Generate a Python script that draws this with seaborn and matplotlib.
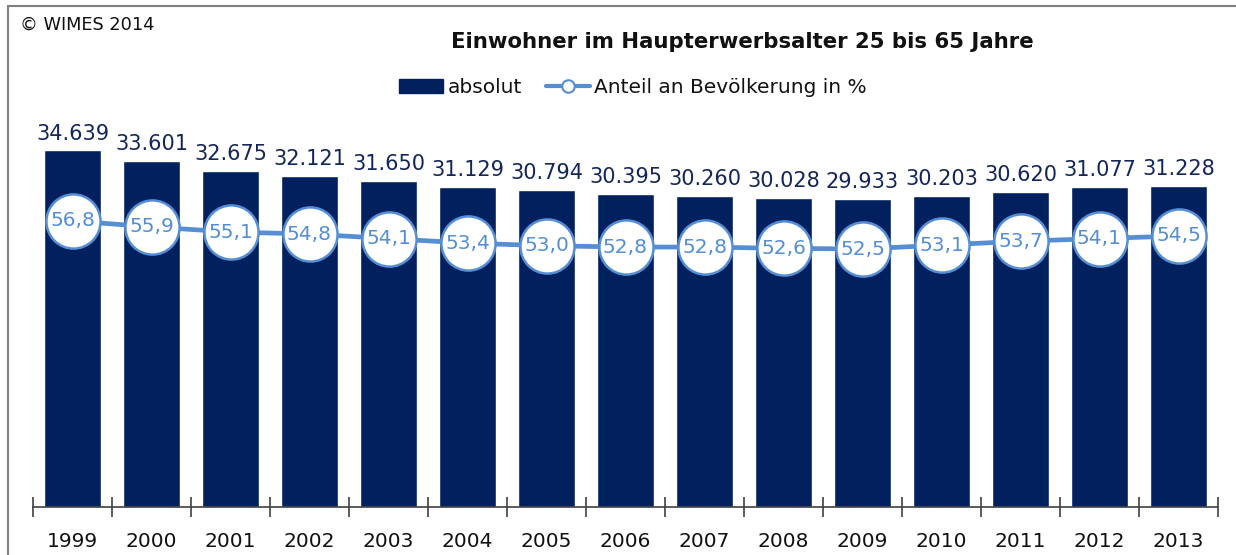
import numpy as np
import pandas as pd
import matplotlib
matplotlib.use("Agg")
import matplotlib.pyplot as plt
import seaborn as sns
from matplotlib.patches import Patch
from matplotlib.lines import Line2D
from matplotlib.ticker import FixedLocator

# data
years = ["1999", "2000", "2001", "2002", "2003", "2004", "2005", "2006",
         "2007", "2008", "2009", "2010", "2011", "2012", "2013"]
absolut = [34.639, 33.601, 32.675, 32.121, 31.650, 31.129, 30.794, 30.395,
           30.260, 30.028, 29.933, 30.203, 30.620, 31.077, 31.228]
anteil = [56.8, 55.9, 55.1, 54.8, 54.1, 53.4, 53.0, 52.8,
          52.8, 52.6, 52.5, 53.1, 53.7, 54.1, 54.5]

navy = "#03205E"
light = "#558ED5"
label_navy = "#13255A"

sns.set_style("white")
plt.rcParams["font.family"] = ["DejaVu Sans"]

df = pd.DataFrame({"Jahr": years, "absolut": absolut, "anteil": anteil})

fig = plt.figure(figsize=(12.36, 5.55), dpi=100)
ax = fig.add_axes([33 / 1236, 1 - 507 / 555, (1218 - 33) / 1236, (507 - 120) / 555])

sns.barplot(data=df, x="Jahr", y="absolut", color=navy, saturation=1,
            width=0.72, ax=ax)
ax.set_ylim(0, 37.6)
ax.set_xlim(-0.5, len(years) - 0.5)
for c in ax.containers:
    ax.bar_label(c, labels=[f"{v:.3f}" for v in absolut], padding=5,
                 fontsize=15, color=label_navy)

# secondary axis for the share line
ax2 = ax.twinx()
xpos = np.arange(len(years))
sns.lineplot(x=xpos, y=anteil, ax=ax2, color=light, linewidth=3.4,
             marker="o", markersize=39, markerfacecolor="white",
             markeredgecolor=light, markeredgewidth=1.8)
ax2.set_ylim(12.9, 72.3)
for i, v in enumerate(anteil):
    ax2.text(i, v, f"{v:.1f}".replace(".", ","), ha="center", va="center",
             fontsize=14.5, color=light, zorder=5)

for a in (ax, ax2):
    a.set_xlabel("")
    a.set_ylabel("")
    a.set_yticks([])
    for s in ["top", "right", "left"]:
        a.spines[s].set_visible(False)
ax2.spines["bottom"].set_visible(False)
ax.spines["bottom"].set_color("#404040")
ax.spines["bottom"].set_linewidth(1.2)

ax.tick_params(axis="x", which="major", length=0, labelsize=14.5, pad=18,
               labelcolor="#111111")
ax.xaxis.set_minor_locator(FixedLocator(np.arange(-0.5, len(years), 1.0)))
ax.tick_params(axis="x", which="minor", bottom=True, direction="inout",
               length=14, width=1.2, color="#404040")
ax.set_xlim(-0.5, len(years) - 0.5)

# title, copyright, legend
fig.text(742 / 1236, 1 - 42 / 555, "Einwohner im Haupterwerbsalter 25 bis 65 Jahre",
         ha="center", va="center", fontsize=15.3, fontweight="bold", color="#111111")
fig.text(20 / 1236, 1 - 25 / 555, "© WIMES 2014", ha="left", va="center",
         fontsize=12.8, color="#111111")

handles = [Patch(facecolor=navy, edgecolor=navy),
           Line2D([], [], color=light, lw=3, marker="o", markersize=9,
                  markerfacecolor="white", markeredgecolor=light, markeredgewidth=1.5)]
fig.legend(handles, ["absolut", "Anteil an Bevölkerung in %"],
           loc="center", bbox_to_anchor=(633 / 1236, 1 - 88 / 555), ncol=2,
           frameon=False, fontsize=14.5, handlelength=2.2, handleheight=0.7,
           handletextpad=0.2, columnspacing=1.2, labelcolor="#111111")

# outer frame
fig.add_artist(Line2D([8 / 1236, 1], [1 - 6 / 555, 1 - 6 / 555], color="#808080", lw=1.5))
fig.add_artist(Line2D([8 / 1236, 8 / 1236], [0, 1 - 6 / 555], color="#808080", lw=1.5))

fig.savefig("out.png", dpi=100)
